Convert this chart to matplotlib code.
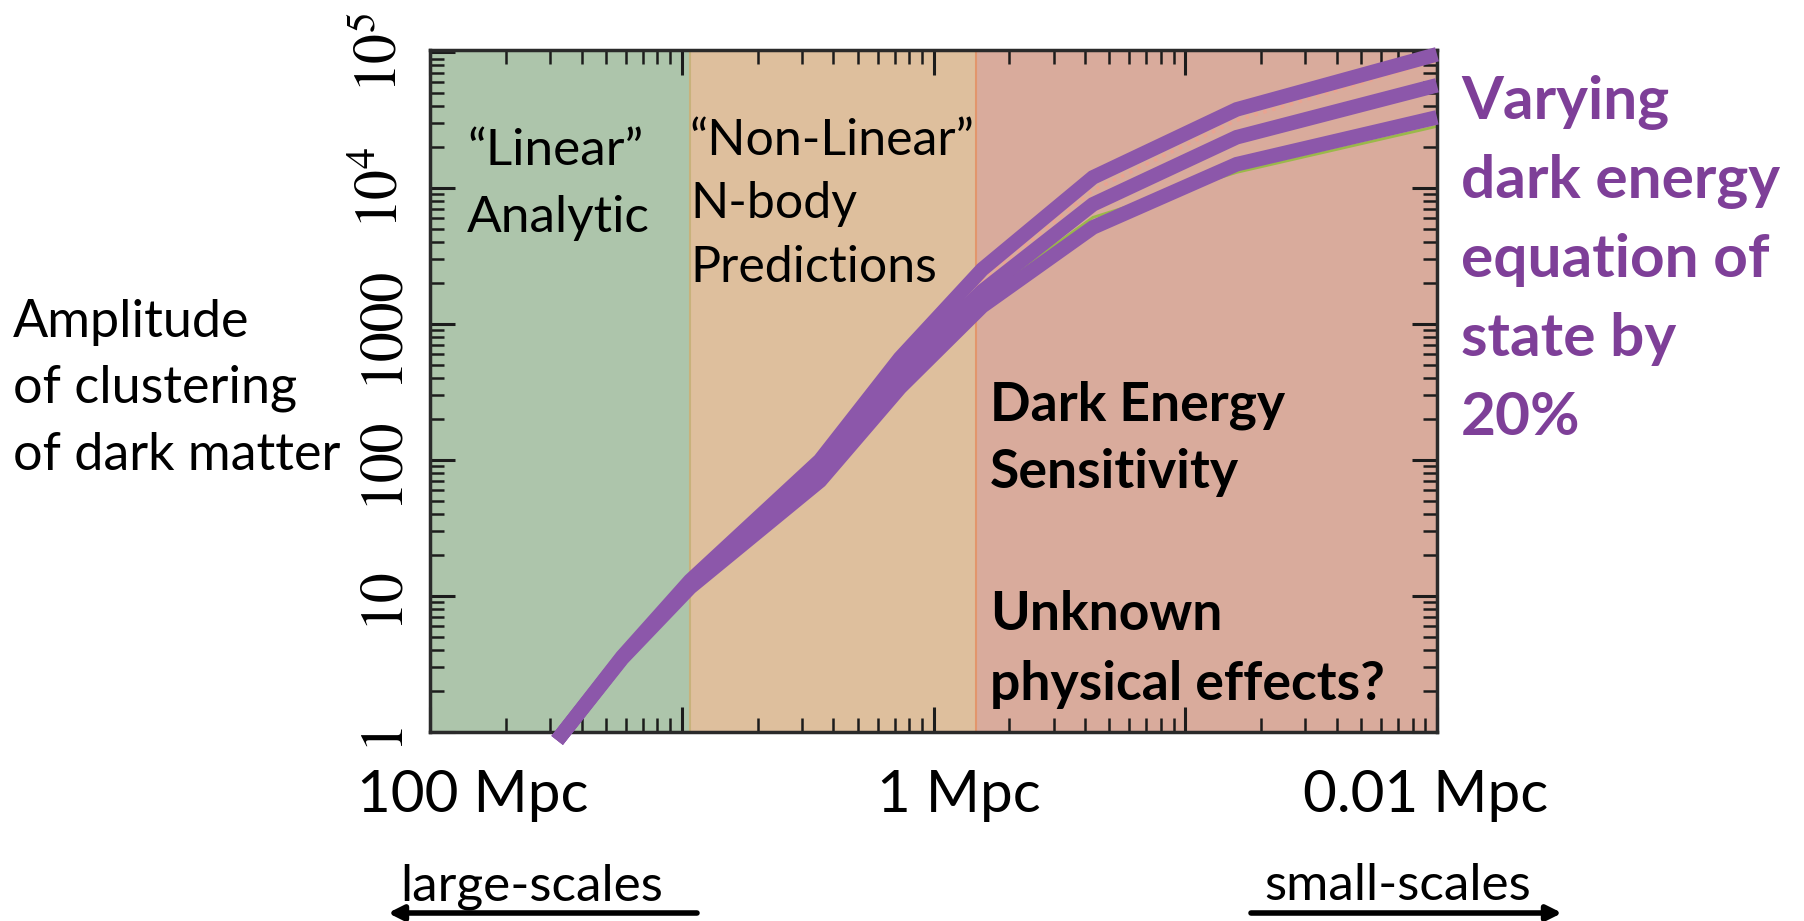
import numpy as np
import matplotlib.pyplot as plt
from matplotlib.ticker import LogLocator, NullFormatter

W, H = 1804, 921
FONT = 'Lato'

# wavenumber (log axis, 4 decades) and clustering amplitude
k = [0.032, 0.058, 0.108, 0.354, 0.736, 1.56, 4.3, 16.0, 100.0]
amp_hi = [0.86, 3.55, 12.9, 99, 560, 2520, 12000, 38000, 96700]
amp_mid = [0.86, 3.5, 12.3, 84, 440, 1740, 7600, 23700, 57200]
amp_lo = [0.86, 3.45, 11.5, 70, 340, 1350, 5140, 15000, 33200]

# faint underlying curves peeking out between the thick ones
k_salmon = [0.736, 1.56, 4.3, 16.0, 100.0]
amp_salmon = [471, 2094, 9640, 31600, 87300]
k_green = [0.354, 0.736, 1.56, 4.3, 16.0, 100.0]
amp_green = [75.5, 371, 1570, 6095, 13060, 28500]

# shaded regimes
region_edges = [0.01, 0.108, 1.475, 100]
region_colors = ['#adc5ab', '#debf9d', '#d9ab9c']
edge_colors = ['#c8b27c', '#e2966c']

yticks = [1, 10, 100, 1000, 1e4, 1e5]
ytick_labels = ['1', '10', '100', '1000', r'$10^4$', r'$10^5$']

plt.rcParams['mathtext.fontset'] = 'stix'


def px(x, y):
    # picture pixel (from top-left) -> figure fraction
    return x / W, 1 - y / H


fig = plt.figure(figsize=(W / 100, H / 100), dpi=100)
ax = fig.add_axes([430 / W, 1 - 731.5 / H, (1437 - 430) / W, (731.5 - 50) / H])

for i in range(3):
    ax.axvspan(region_edges[i], region_edges[i + 1], color=region_colors[i], lw=0, zorder=0)
for xe, c in zip(region_edges[1:3], edge_colors):
    ax.axvline(xe, color=c, lw=1.5, zorder=0.5)

ax.plot(k_salmon, amp_salmon, color='#eaa391', lw=2.5, ls=':', zorder=1)
ax.plot(k_green, amp_green, color='#9ab84a', lw=2, zorder=1)

purple = '#8c57aa'
for amp in (amp_lo, amp_mid, amp_hi):
    ax.plot(k, amp, color=purple, lw=10.5, solid_capstyle='butt',
            solid_joinstyle='miter', clip_on=False, zorder=3)

ax.set_xscale('log')
ax.set_yscale('log')
ax.set_xlim(0.01, 100)
ax.set_ylim(1, 1.04e5)

ax.xaxis.set_major_locator(LogLocator(base=10, numticks=10))
ax.xaxis.set_minor_locator(LogLocator(base=10, subs=np.arange(2, 10), numticks=20))
ax.xaxis.set_major_formatter(NullFormatter())
ax.xaxis.set_minor_formatter(NullFormatter())
ax.yaxis.set_minor_locator(LogLocator(base=10, subs=np.arange(2, 10), numticks=20))
ax.yaxis.set_minor_formatter(NullFormatter())
ax.set_yticks(yticks)
ax.set_yticklabels(ytick_labels, family='STIXGeneral', fontsize=43, rotation=90, va='center')

ax.tick_params(which='both', direction='in', top=True, right=True, color='#1c1c1c')
ax.tick_params(which='major', length=18, width=2.2)
ax.tick_params(which='minor', length=10, width=1.8)
ax.tick_params(axis='y', which='major', pad=15)
for s in ax.spines.values():
    s.set_linewidth(2.5)
    s.set_color('#2a2a2a')

# axis description on the left
for y, s in zip([337, 403, 470], ['Amplitude', 'of clustering', 'of dark matter']):
    fig.text(*px(13, y), s, fontsize=37.5, family=FONT, va='baseline')

# regime labels inside the plot
for y, s in zip([165, 232], ['\u201cLinear\u201d', 'Analytic']):
    fig.text(*px(467, y), s, fontsize=37, family=FONT, va='baseline')
for y, s in zip([155, 218, 282], ['\u201cNon-Linear\u201d', 'N-body', 'Predictions']):
    fig.text(*px(690, y), s, fontsize=36, family=FONT, va='baseline')
for y, s in zip([420, 488, 630, 700],
                ['Dark Energy', 'Sensitivity', 'Unknown', 'physical effects?']):
    fig.text(*px(990, y), s, fontsize=38.5, family=FONT, weight='bold', va='baseline')

# purple note on the right
for y, s in zip([119, 198, 277, 356, 435],
                ['Varying', 'dark energy', 'equation of', 'state by', '20%']):
    fig.text(*px(1461, y), s, fontsize=43.5, family=FONT, weight='bold',
             color='#7e3f98', va='baseline')

# scale labels under the axis
for x, s in zip([473, 959, 1426], ['100 Mpc', '1 Mpc', '0.01 Mpc']):
    fig.text(*px(x, 812), s, fontsize=42, family=FONT, ha='center', va='baseline')
for x, s in zip([532, 1398], ['large-scales', 'small-scales']):
    fig.text(*px(x, 900), s, fontsize=37, family=FONT, ha='center', va='baseline')

arrow = dict(arrowstyle='-|>', lw=4, color='black', mutation_scale=22, shrinkA=0, shrinkB=0)
ax.annotate('', xy=px(388, 913), xytext=px(697, 913), xycoords='figure fraction',
            textcoords='figure fraction', arrowprops=arrow)
ax.annotate('', xy=px(1562, 913), xytext=px(1251, 913), xycoords='figure fraction',
            textcoords='figure fraction', arrowprops=arrow)

fig.savefig('out.png', dpi=100)
